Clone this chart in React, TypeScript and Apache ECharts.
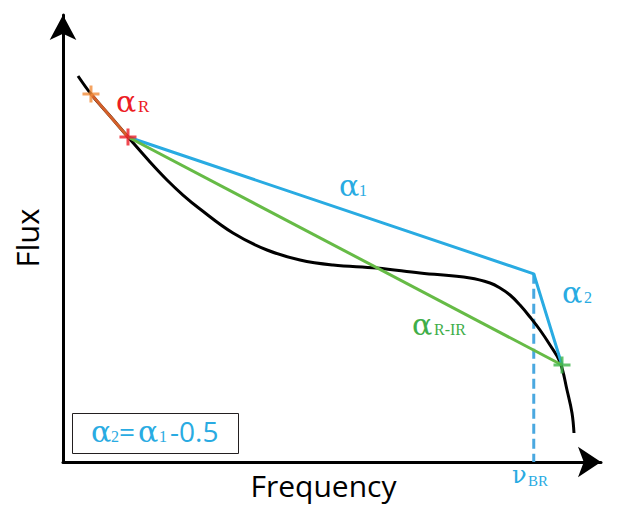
import React, { useEffect, useRef } from "react";
import * as echarts from "echarts";

// Observed spectrum (schematic), frequency vs flux in arbitrary units (0-100)
const curveFreq = [2.79, 5.2, 8.74, 12.08, 16.17, 19.33, 22.3, 25.46, 31.6, 37.92, 44.05, 50.19, 58.36, 66.36, 75.65, 79.37, 81.23, 83.09, 84.94, 86.8, 88.66, 90.52, 92.38, 93.68, 94.61, 94.98];
const curveFlux = [86.35, 82.33, 77.4, 72.71, 67.11, 63.09, 59.73, 56.6, 51.23, 47.43, 45.19, 44.07, 43.4, 42.28, 41.16, 40.04, 38.93, 37.36, 35.12, 32.44, 29.53, 26.17, 22.37, 16.11, 10.96, 6.49];

// Key points
const pointR = [5.2, 82.33];      // orange cross (radio)
const pointRed = [12.08, 72.71];  // red cross
const pointBreak = [87.5, 42.1];  // spectral break nu_BR
const pointIR = [92.75, 21.7];    // green cross (IR)

const BLUE = "#29abe2";
const GREEN_LINE = "#66bb46";
const GREEN_TEXT = "#3fae49";
const RED = "#ec1c24";
const ORANGE = "#f28c3a";
const BROWN = "#d4602a";

const CROSS = "path://M7,0h3v17h-3zM0,7h17v3h-17z";

const SERIF = "'Liberation Serif', serif";
const GREEK = "'DejaVu Serif', serif";
const SANS = "'Open Sans', sans-serif";

function seg(text: string, x: number, baseline: number, size: number, color: string, family: string) {
  const k = family === SANS ? 0.39 : family === GREEK ? 0.36 : 0.34;
  return {
    type: "text",
    silent: true,
    z: 20,
    style: {
      text,
      x,
      y: baseline - k * size,
      fill: color,
      font: `${size}px ${family}`,
      align: "left",
      verticalAlign: "middle",
    },
  };
}

export default function App() {
  const ref = useRef<HTMLDivElement>(null);
  useEffect(() => {
    if (!ref.current) return;
    const chart = echarts.init(ref.current, null, { renderer: "svg" });
    const curve = curveFreq.map((f, i) => [f, curveFlux[i]]);
    const option: any = {
      animation: false,
      backgroundColor: "#ffffff",
      grid: { left: 63, top: 15, right: 21, bottom: 48 },
      xAxis: {
        type: "value",
        min: 0,
        max: 100,
        axisLabel: { show: false },
        axisTick: { show: false },
        splitLine: { show: false },
        axisLine: {
          show: true,
          onZero: false,
          symbol: ["none", "arrow"],
          symbolSize: [23, 23],
          lineStyle: { color: "#000", width: 3 },
        },
      },
      yAxis: {
        type: "value",
        min: 0,
        max: 100,
        axisLabel: { show: false },
        axisTick: { show: false },
        splitLine: { show: false },
        axisLine: {
          show: true,
          onZero: false,
          symbol: ["none", "arrow"],
          symbolSize: [20, 25],
          lineStyle: { color: "#000", width: 3 },
        },
      },
      series: [
        {
          type: "line",
          data: [pointBreak, [pointBreak[0], 0]],
          symbol: "none",
          lineStyle: { color: "#4aa8e0", width: 3, type: [10, 5] },
          z: 1,
        },
        {
          type: "line",
          data: curve,
          smooth: 0.4,
          symbol: "none",
          lineStyle: { color: "#000", width: 3 },
          z: 2,
        },
        {
          type: "line",
          data: [pointRed, pointBreak, pointIR],
          symbol: "none",
          lineStyle: { color: BLUE, width: 3 },
          z: 3,
        },
        {
          type: "line",
          data: [pointRed, pointIR],
          symbol: "none",
          lineStyle: { color: GREEN_LINE, width: 3 },
          z: 3,
        },
        {
          type: "line",
          data: [pointR, pointRed],
          symbol: "none",
          lineStyle: { color: BROWN, width: 3 },
          z: 4,
        },
        {
          type: "scatter",
          symbol: CROSS,
          symbolSize: 17,
          z: 5,
          data: [
            { value: pointR, itemStyle: { color: ORANGE } },
            { value: pointRed, itemStyle: { color: RED } },
            { value: pointIR, itemStyle: { color: "#3fb549" } },
          ],
        },
      ],
      graphic: [
        // alpha_R
        seg("α", 116, 112, 30, RED, GREEK),
        seg("R", 138, 112, 17, RED, SERIF),
        // alpha_1
        seg("α", 339, 196, 30, BLUE, GREEK),
        seg("1", 359, 196, 16, BLUE, SERIF),
        // alpha_2
        seg("α", 562, 303, 30, BLUE, GREEK),
        seg("2", 584, 303, 16, BLUE, SERIF),
        // alpha_R-IR
        seg("α", 412, 335, 30, GREEN_TEXT, GREEK),
        seg("R-IR", 434, 335, 16, GREEN_TEXT, SERIF),
        // nu_BR
        seg("ν", 512, 484, 24, BLUE, GREEK),
        seg("BR", 528, 486, 15, BLUE, SERIF),
        // box
        {
          type: "rect",
          silent: true,
          shape: { x: 72.5, y: 413.5, width: 166, height: 40 },
          style: { fill: "none", stroke: "#231f20", lineWidth: 1 },
          z: 10,
        },
        seg("α", 91, 442, 30, BLUE, GREEK),
        seg("2", 111, 442, 16, BLUE, SERIF),
        seg("=", 119, 442, 28, BLUE, SANS),
        seg("α", 138, 442, 30, BLUE, GREEK),
        seg("1", 159, 442, 16, BLUE, SERIF),
        seg("-0.5", 170, 442, 28, BLUE, SANS),
        // axis titles
        {
          type: "text",
          silent: true,
          style: {
            text: "Frequency",
            x: 323.5,
            y: 497 - 0.39 * 30,
            fill: "#000",
            font: `30px ${SANS}`,
            align: "center",
            verticalAlign: "middle",
          },
        },
        {
          type: "text",
          silent: true,
          x: 27,
          y: 238,
          rotation: Math.PI / 2,
          style: {
            text: "Flux",
            x: 0,
            y: 0,
            fill: "#000",
            font: `31px ${SANS}`,
            align: "center",
            verticalAlign: "middle",
          },
        },
      ],
    };
    chart.setOption(option);
    return () => chart.dispose();
  }, []);
  return (
    <div
      ref={ref}
      style={{ position: "fixed", left: 0, top: 0, width: 622, height: 510, background: "#fff" }}
    />
  );
}
